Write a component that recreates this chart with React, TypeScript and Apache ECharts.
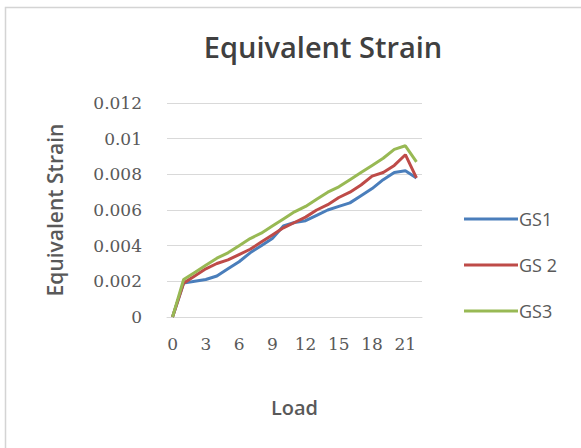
import React, { useEffect, useRef } from "react";
import * as echarts from "echarts";

const categories = ["0","1","2","3","4","5","6","7","8","9","10","11","12","13","14","15","16","17","18","19","20","21","22"];
const gs1 = [0, 0.0019, 0.0020, 0.0021, 0.0023, 0.0027, 0.0031, 0.0036, 0.0040, 0.0044, 0.0051, 0.0053, 0.0054, 0.0057, 0.0060, 0.0062, 0.0064, 0.0068, 0.0072, 0.0077, 0.0081, 0.0082, 0.0078];
const gs2 = [0, 0.0019, 0.0023, 0.0027, 0.0030, 0.0032, 0.0035, 0.0038, 0.0042, 0.0046, 0.0050, 0.0053, 0.0056, 0.0060, 0.0063, 0.0067, 0.0070, 0.0074, 0.0079, 0.0081, 0.0085, 0.0091, 0.0078];
const gs3 = [0, 0.0021, 0.0025, 0.0029, 0.0033, 0.0036, 0.0040, 0.0044, 0.0047, 0.0051, 0.0055, 0.0059, 0.0062, 0.0066, 0.0070, 0.0073, 0.0077, 0.0081, 0.0085, 0.0089, 0.0094, 0.0096, 0.0087];
const seriesNames = ["GS1", "GS 2", "GS3"];
const colors = ["#4A7EBB", "#BE4B48", "#98B954"];

const sans = "'Open Sans', 'Noto Sans', sans-serif";
const serif = "'DejaVu Serif', serif";

export default function App() {
  const ref = useRef<HTMLDivElement>(null);
  useEffect(() => {
    document.body.style.margin = "0";
    const chart = echarts.init(ref.current!, undefined, { renderer: "svg" });
    const data = [gs1, gs2, gs3];
    chart.setOption({
      animation: false,
      backgroundColor: "#ffffff",
      title: {
        text: "Equivalent Strain",
        left: 318,
        textAlign: "center",
        top: 27,
        textStyle: { fontFamily: sans, fontSize: 29, fontWeight: 600, color: "#404040" },
      },
      graphic: [
        {
          type: "rect",
          shape: { x: 5.5, y: 7.5, width: 700, height: 600 },
          style: { fill: "none", stroke: "#d4d4d4", lineWidth: 1.5 },
          silent: true,
        },
      ],
      legend: {
        orient: "vertical",
        left: 459,
        top: 205,
        itemWidth: 54,
        itemHeight: 3,
        itemGap: 28,
        icon: "rect",
        textStyle: { fontFamily: sans, fontSize: 18, color: "#595959", padding: [0, 0, 0, -4] },
        data: seriesNames,
      },
      grid: { left: 167, right: 159, top: 103, bottom: 131, containLabel: false },
      xAxis: {
        type: "category",
        data: categories,
        boundaryGap: true,
        name: "Load",
        nameLocation: "middle",
        nameGap: 80,
        nameTextStyle: { fontFamily: sans, fontSize: 20, fontWeight: 600, color: "#595959" },
        axisLine: { show: true, lineStyle: { color: "#d9d9d9", width: 1 } },
        axisTick: { show: false },
        axisLabel: { interval: 2, margin: 18, fontFamily: serif, fontSize: 17, color: "#595959" },
      },
      yAxis: {
        type: "value",
        min: 0,
        max: 0.012,
        interval: 0.002,
        name: "Equivalent Strain",
        nameLocation: "middle",
        nameGap: 102,
        nameRotate: 90,
        nameTextStyle: { fontFamily: sans, fontSize: 21, fontWeight: 600, color: "#595959" },
        axisLine: { show: false },
        axisTick: { show: false },
        axisLabel: { margin: 25, fontFamily: serif, fontSize: 17, color: "#595959" },
        splitLine: { lineStyle: { color: "#d9d9d9", width: 1 } },
      },
      series: seriesNames.map((n, i) => ({
        name: n,
        type: "line",
        data: data[i],
        symbol: "none",
        lineStyle: { color: colors[i], width: 3 },
        itemStyle: { color: colors[i] },
      })),
    });
    return () => chart.dispose();
  }, []);
  return <div ref={ref} style={{ width: 581, height: 448 }} />;
}
